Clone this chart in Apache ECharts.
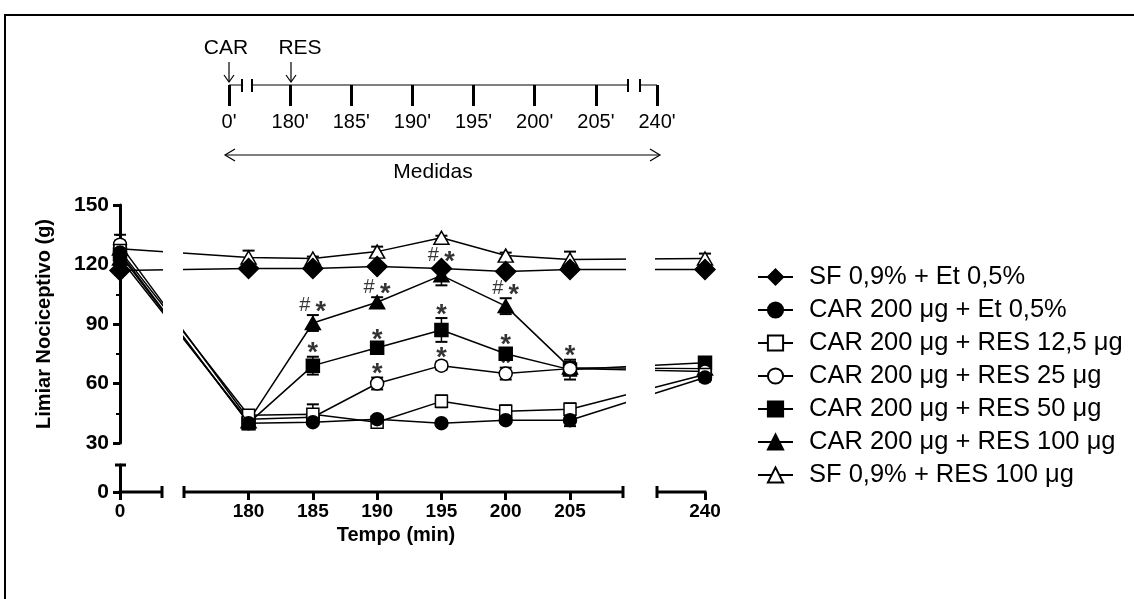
<!DOCTYPE html>
<html><head><meta charset="utf-8">
<script src="https://cdn.jsdelivr.net/npm/echarts@6/dist/echarts.min.js"></script>
<style>html,body{margin:0;padding:0;background:#fff}#c{width:1134px;height:599px}</style>
</head><body><div id="c"></div>
<script>
// ---------- data ----------
const times = [0, 180, 185, 190, 195, 200, 205, 240];
const timeLabels = ['0', '180', '185', '190', '195', '200', '205', '240'];
const timelineLabels = ["0'", "180'", "185'", "190'", "195'", "200'", "205'", "240'"];
const seriesNames = [
  'SF 0,9% + Et 0,5%',
  'CAR 200 μg + Et 0,5%',
  'CAR 200 μg + RES 12,5 μg',
  'CAR 200 μg + RES 25 μg',
  'CAR 200 μg + RES 50 μg',
  'CAR 200 μg + RES 100 μg',
  'SF 0,9% + RES 100 μg'
];
const sfEt      = [117, 118, 118, 119, 118, 116.5, 117.5, 117.5];
const sfEtErr   = [2, 1, 1, 1, 1, 1, 1, 1];
const carEt     = [126, 40, 40.5, 42, 40, 41.5, 41.5, 63];
const carEtErr  = [3, 3, 1, 1, 1, 1.5, 3, 2];
const res12     = [127, 44, 44.5, 40.5, 51, 46, 47, 64.5];
const res12Err  = [3, 2, 5, 1.5, 3, 3, 3, 2];
const res25     = [130, 42, 43, 60, 69, 65, 67.5, 66];
const res25Err  = [5, 2, 2, 3, 2, 3, 3, 2];
const res50     = [125, 40, 69, 78, 87, 75, 67, 70.5];
const res50Err  = [3, 3, 4.5, 2, 6, 2.5, 5, 2.5];
const res100    = [123, 41, 90.5, 101, 114.5, 99, 68, 67.5];
const res100Err = [3, 2, 4, 2.5, 5, 4, 3, 2];
const sfRes     = [128, 123.5, 123, 126.5, 133.5, 124.5, 122.5, 123];
const sfResErr  = [4, 3.5, 1, 2.5, 1, 1.5, 4, 2.5];
// significance marks: series index, time, has '#'
const annSeries = [5, 4, 5, 4, 3, 5, 4, 3, 5, 4, 3, 4];
const annTime   = [185, 185, 190, 190, 190, 195, 195, 195, 200, 200, 200, 205];
const annHash   = [true, false, true, false, false, true, false, false, true, false, false, false];

const means = [sfEt, carEt, res12, res25, res50, res100, sfRes];
const errs = [sfEtErr, carEtErr, res12Err, res25Err, res50Err, res100Err, sfResErr];

// broken time scale: 0 and 240 are brought next to the 175–210 window
function brokenX(t) {
  if (t <= 10) return 170 + t;
  if (t >= 230) return 215.5 + (t - 240);
  return t;
}
const FONT = "'Liberation Sans', Arial, sans-serif";

const styles = [
  { symbol: 'diamond', size: [20, 20], fill: '#000' },
  { symbol: 'circle', size: 13, fill: '#000' },
  { symbol: 'rect', size: 12, fill: '#fff' },
  { symbol: 'circle', size: 13, fill: '#fff' },
  { symbol: 'rect', size: 13, fill: '#000' },
  { symbol: 'triangle', size: [15, 13], fill: '#000' },
  { symbol: 'triangle', size: [15, 13], fill: '#fff' }
];

const chart = echarts.init(document.getElementById('c'), null, { renderer: 'canvas' });

const lineSeries = seriesNames.map((name, i) => ({
  name,
  type: 'line',
  xAxisIndex: 0, yAxisIndex: 0,
  data: times.map((t, k) => [brokenX(t), means[i][k]]),
  symbol: styles[i].symbol,
  symbolSize: styles[i].size,
  showAllSymbol: true,
  clip: false,
  z: 10 - i,
  lineStyle: { color: '#000', width: 1.5 },
  itemStyle: { color: styles[i].fill, borderColor: '#000', borderWidth: 1.5 },
  emphasis: { disabled: true },
  animation: false
}));

const errData = [];
means.forEach((m, i) => m.forEach((v, k) => errData.push([brokenX(times[k]), v, errs[i][k]])));
const errSeries = {
  type: 'custom',
  xAxisIndex: 0, yAxisIndex: 0,
  z: 2,
  clip: false,
  data: errData,
  silent: true,
  animation: false,
  renderItem(params, api) {
    const x = api.value(0), m = api.value(1), e = api.value(2);
    const top = api.coord([x, m + e]), bot = api.coord([x, m - e]);
    const cw = 6;
    const st = { stroke: '#000', lineWidth: 1.5 };
    return {
      type: 'group', children: [
        { type: 'line', shape: { x1: top[0], y1: top[1], x2: bot[0], y2: bot[1] }, style: st },
        { type: 'line', shape: { x1: top[0] - cw, y1: top[1], x2: top[0] + cw, y2: top[1] }, style: { stroke: '#000', lineWidth: 2 } },
        { type: 'line', shape: { x1: bot[0] - cw, y1: bot[1], x2: bot[0] + cw, y2: bot[1] }, style: { stroke: '#000', lineWidth: 2 } }
      ]
    };
  }
};

function annAnchor(j) {
  const s = annSeries[j];
  const k = times.indexOf(annTime[j]);
  return [brokenX(annTime[j]), means[s][k] + errs[s][k]];
}
const starSeries = {
  type: 'scatter', xAxisIndex: 0, yAxisIndex: 0, z: 20, silent: true, animation: false,
  symbol: 'circle', symbolSize: 1, itemStyle: { color: 'rgba(0,0,0,0)' },
  data: annSeries.map((s, j) => ({
    value: annAnchor(j),
    label: { offset: [annHash[j] ? 8 : 0, -3] }
  })),
  label: {
    show: true, position: 'inside', formatter: '*',
    fontFamily: FONT, fontSize: 27, fontWeight: 'bold', color: '#000'
  }
};
const hashSeries = {
  type: 'scatter', xAxisIndex: 0, yAxisIndex: 0, z: 20, silent: true, animation: false,
  symbol: 'circle', symbolSize: 1, itemStyle: { color: 'rgba(0,0,0,0)' },
  data: annSeries.map((s, j) => annHash[j] ? annAnchor(j) : null).filter(d => d),
  label: {
    show: true, position: 'inside', formatter: '#', offset: [-8, -10],
    fontFamily: FONT, fontSize: 20, color: '#000'
  }
};

const tickPos = times.map(brokenX);
function labelFor(v) {
  const i = tickPos.findIndex(p => Math.abs(p - v) < 1e-6);
  return i >= 0 ? timeLabels[i] : '';
}

// decorations
const BL = '#000';
const line = (x1, y1, x2, y2, w) => ({ type: 'line', silent: true, z: 50, shape: { x1, y1, x2, y2 }, style: { stroke: BL, lineWidth: w } });
const poly = (pts, w) => ({ type: 'polyline', silent: true, z: 50, shape: { points: pts }, style: { stroke: BL, lineWidth: w, fill: null } });
const text = (x, y, t, size, weight) => ({
  type: 'text', silent: true, z: 50, x, y,
  style: { text: t, fill: '#000', font: (weight || 'normal') + ' ' + size + 'px ' + FONT, align: 'center', verticalAlign: 'middle' }
});
const rect = (x, y, w, h) => ({ type: 'rect', silent: true, z: 40, shape: { x, y, width: w, height: h }, style: { fill: '#fff' } });

const graphics = [
  // outer frame
  poly([[1134, 15], [5, 15], [5, 599]], 2),
  // gaps in the data lines at the axis breaks
  rect(163, 198, 20, 252),
  rect(626, 198, 29, 252),
  // x axis segments
  line(118.5, 492, 162, 492, 3),
  line(184, 492, 623, 492, 3),
  line(657, 492, 706.5, 492, 3),
  line(162, 486, 162, 498, 3),
  line(184, 486, 184, 498, 3),
  line(623, 486, 623, 498, 3),
  line(657, 486, 657, 498, 3),
  // y axis lower segment cap
  line(115, 465, 126, 465, 3),
  // axis title x
  text(396, 535, 'Tempo (min)', 20, 'bold'),
  // timeline schematic
  line(229, 85, 242, 85, 1),
  line(252, 85, 628, 85, 1),
  line(640, 85, 657, 85, 1),
  line(242, 79, 242, 92, 2),
  line(252, 79, 252, 92, 2),
  line(628, 79, 628, 92, 2),
  line(640, 79, 640, 92, 2),
  line(229, 62, 229, 82, 1.2),
  poly([[224, 75], [229, 82], [234, 75]], 1.2),
  line(291, 62, 291, 82, 1.2),
  poly([[286, 75], [291, 82], [296, 75]], 1.2),
  text(226, 48, 'CAR', 21),
  text(300, 48, 'RES', 21),
  line(226, 155, 659, 155, 1.2),
  poly([[235, 149], [225, 155], [235, 161]], 1.2),
  poly([[650, 149], [660, 155], [650, 161]], 1.2),
  text(433, 172, 'Medidas', 21)
];

const option = {
  animation: false,
  backgroundColor: '#fff',
  textStyle: { fontFamily: FONT },
  grid: [
    { left: 120, top: 205, width: 585, height: 238 },
    { left: 120, top: 465, width: 585, height: 27 },
    { left: 229, top: 84, width: 428, height: 1 }
  ],
  xAxis: [
    { gridIndex: 0, type: 'value', min: 170, max: 215.5, show: false },
    {
      gridIndex: 1, type: 'value', min: 170, max: 215.5,
      axisLine: { show: false },
      splitLine: { show: false },
      axisTick: { show: true, customValues: tickPos, length: 8, lineStyle: { color: BL, width: 3 } },
      axisLabel: { customValues: tickPos, formatter: labelFor, margin: 10, color: '#000', fontFamily: FONT, fontSize: 19, fontWeight: 'bold' }
    },
    {
      gridIndex: 2, type: 'category', data: timelineLabels, boundaryGap: false,
      axisLine: { show: false },
      axisTick: { show: true, interval: 0, length: 21, lineStyle: { color: BL, width: 3 } },
      axisLabel: { interval: 0, margin: 27, color: '#000', fontFamily: FONT, fontSize: 20 }
    }
  ],
  yAxis: [
    {
      gridIndex: 0, type: 'value', min: 30, max: 150, interval: 30,
      name: 'Limiar Nociceptivo (g)', nameLocation: 'middle', nameGap: 66, nameRotate: 90,
      nameTextStyle: { color: '#000', fontFamily: FONT, fontSize: 20, fontWeight: 'bold' },
      axisLine: { show: true, lineStyle: { color: BL, width: 3 } },
      axisTick: { show: true, length: 7, lineStyle: { color: BL, width: 3 } },
      minorTick: { show: true, splitNumber: 2, length: 4, lineStyle: { color: BL, width: 2 } },
      splitLine: { show: false },
      axisLabel: { margin: 11, color: '#000', fontFamily: FONT, fontSize: 21, fontWeight: 'bold' }
    },
    {
      gridIndex: 1, type: 'value', min: 0, max: 15,
      axisLine: { show: true, lineStyle: { color: BL, width: 3 } },
      axisTick: { show: true, customValues: [0], length: 7, lineStyle: { color: BL, width: 3 } },
      splitLine: { show: false },
      axisLabel: { customValues: [0], margin: 11, color: '#000', fontFamily: FONT, fontSize: 21, fontWeight: 'bold' }
    },
    { gridIndex: 2, type: 'value', show: false }
  ],
  legend: {
    orient: 'vertical', left: 757, top: 264, padding: 0,
    itemWidth: 35, itemHeight: 19, itemGap: 7,
    selectedMode: false,
    data: seriesNames,
    textStyle: { color: '#000', fontFamily: FONT, fontSize: 25.5, lineHeight: 25, padding: [0, 0, 0, 11] }
  },
  series: [errSeries, ...lineSeries, starSeries, hashSeries],
  graphic: graphics
};
chart.setOption(option);
</script>
</body></html>
